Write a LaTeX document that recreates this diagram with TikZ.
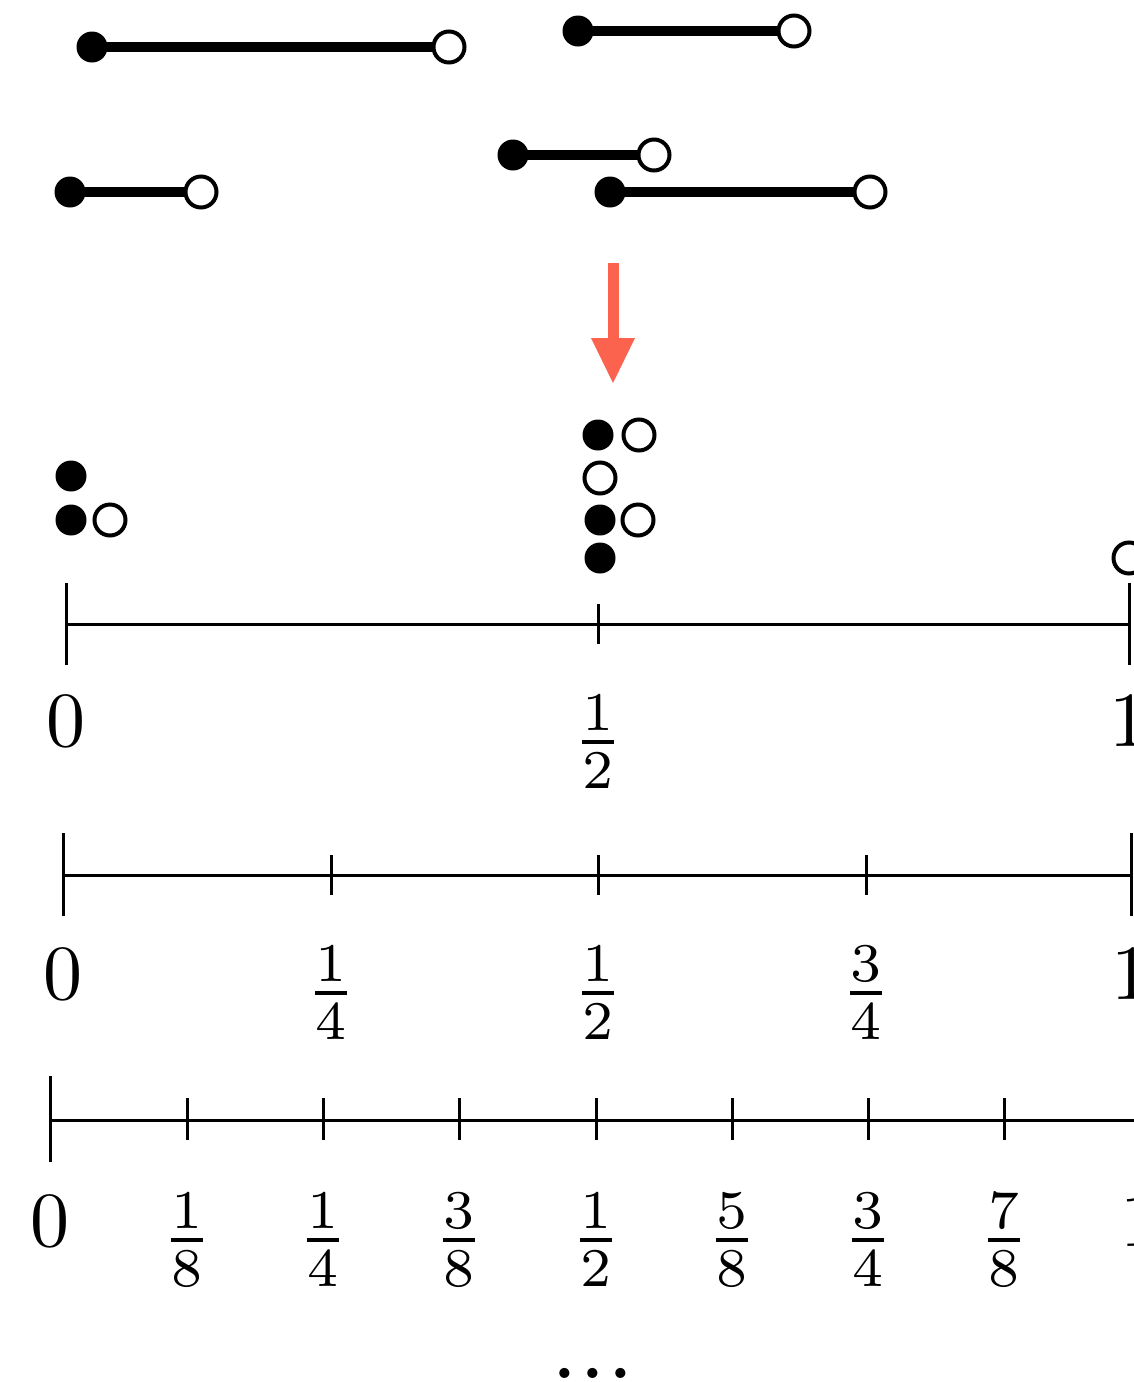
\documentclass[tikz,border=0pt]{standalone}
\usetikzlibrary{arrows.meta}
\definecolor{arrowred}{RGB}{252,99,78}
\begin{document}
\begin{tikzpicture}[x=1pt,y=-1pt,
  seg/.style={line width=10pt},
  closeddot/.style={circle,fill=black,minimum size=31pt,inner sep=0pt},
  opendot/.style={circle,draw=black,line width=4pt,fill=white,minimum size=31pt,inner sep=0pt},
  axisline/.style={line width=3pt},
  longtick/.style={line width=3pt},
  lab/.style={scale=7.8,inner sep=0pt,anchor=north}
]
\path[use as bounding box,clip] (0,0) rectangle (1134,1382);

% ---- intervals ----
\foreach \n/\xa/\xb/\yy in {s1/92/449/47, s2/578/794/31, s3/513/654/155, s4/70/201/192, s5/610/870/192}{
  \coordinate (\n a) at (\xa,\yy);
  \coordinate (\n b) at (\xb,\yy);
  \draw[seg] (\n a) -- (\n b);
  \node[closeddot] (\n L) at (\n a) {};
  \node[opendot] (\n R) at (\n b) {};
}

% ---- arrow ----
\coordinate (arrA) at (613,263);
\coordinate (arrB) at (613,383);
\draw[arrowred,line width=11pt,-{Triangle[width=44pt,length=45pt,line width=0pt]}] (arrA) -- (arrB);

% ---- endpoint dots ----
\node[closeddot] (d1) at (71,476) {};
\node[closeddot] (d2) at (71,520) {};
\node[opendot]   (d3) at (110,520) {};
\node[closeddot] (d4) at (598,435) {};
\node[opendot]   (d5) at (639,435) {};
\node[opendot]   (d6) at (600,478) {};
\node[closeddot] (d7) at (600,520) {};
\node[opendot]   (d8) at (638,520) {};
\node[closeddot] (d9) at (600,558) {};
\node[opendot]   (d10) at (1129,558) {};

% ---- number line 1 ----
\coordinate (La) at (66,624);
\coordinate (Lb) at (1129,624);
\draw[axisline] (La) -- (Lb);
\draw[longtick] (66,583) -- (66,665);
\draw[longtick] (1129,583) -- (1129,665);
\draw[longtick] (598,604) -- (598,644);
\node[lab] (l1a) at (66,695) {$0$};
\node[lab] (l1b) at (598,694) {$\frac{1}{2}$};
\node[lab] (l1c) at (1129,695) {$1$};

% ---- number line 2 ----
\coordinate (Ma) at (63,875);
\coordinate (Mb) at (1131,875);
\draw[axisline] (Ma) -- (Mb);
\draw[longtick] (63,833) -- (63,916);
\draw[longtick] (1131,833) -- (1131,916);
\foreach \xx in {331,598,866}{\draw[longtick] (\xx,855) -- (\xx,895);}
\node[lab] (l2a) at (63,948) {$0$};
\node[lab] (l2b) at (331,945) {$\frac{1}{4}$};
\node[lab] (l2c) at (598,945) {$\frac{1}{2}$};
\node[lab] (l2d) at (866,945) {$\frac{3}{4}$};
\node[lab] (l2e) at (1131,948) {$1$};

% ---- number line 3 ----
\coordinate (Na) at (50,1120);
\coordinate (Nb) at (1140,1120);
\draw[axisline] (Na) -- (Nb);
\draw[longtick] (50,1076) -- (50,1162);
\draw[longtick] (1140,1076) -- (1140,1162);
\foreach \xx in {187,323,459,596,732,868,1004}{\draw[longtick] (\xx,1098) -- (\xx,1140);}
\node[lab] (l3a) at (50,1195) {$0$};
\node[lab] (l3b) at (187,1192) {$\frac{1}{8}$};
\node[lab] (l3c) at (323,1192) {$\frac{1}{4}$};
\node[lab] (l3d) at (459,1192) {$\frac{3}{8}$};
\node[lab] (l3e) at (596,1192) {$\frac{1}{2}$};
\node[lab] (l3f) at (732,1192) {$\frac{5}{8}$};
\node[lab] (l3g) at (868,1192) {$\frac{3}{4}$};
\node[lab] (l3h) at (1004,1192) {$\frac{7}{8}$};
\node[lab] (l3i) at (1140,1195) {$1$};

% ---- continuation dots ----
\node[scale=6.5,inner sep=0pt,anchor=base] (more) at (593,1378) {\bfseries .\kern1.1pt.\kern1.1pt.};
\end{tikzpicture}
\end{document}
